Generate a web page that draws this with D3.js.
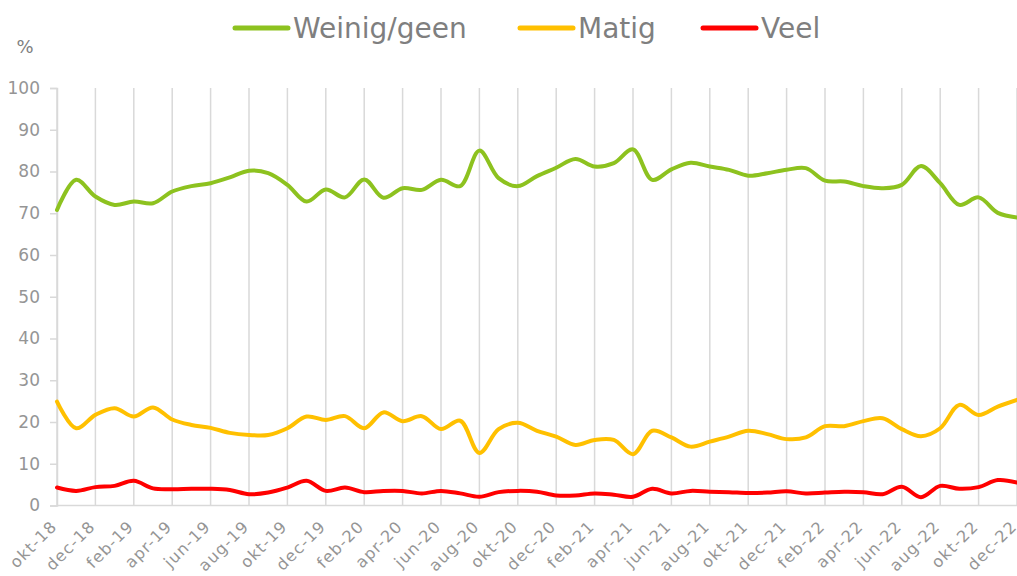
<!DOCTYPE html>
<html><head><meta charset="utf-8">
<script src="https://cdn.jsdelivr.net/npm/d3@7"></script>
<style>
html,body{margin:0;padding:0;background:#fff;}
svg{display:block;}
text{font-family:"Century Gothic","URW Gothic","DejaVu Sans",sans-serif;}
</style></head>
<body><svg id="c" width="1017" height="576"></svg>
<script>
const months = ["okt-18","nov-18","dec-18","jan-19","feb-19","mrt-19","apr-19","mei-19","jun-19","jul-19","aug-19","sep-19",
"okt-19","nov-19","dec-19","jan-20","feb-20","mrt-20","apr-20","mei-20","jun-20","jul-20","aug-20","sep-20",
"okt-20","nov-20","dec-20","jan-21","feb-21","mrt-21","apr-21","mei-21","jun-21","jul-21","aug-21","sep-21",
"okt-21","nov-21","dec-21","jan-22","feb-22","mrt-22","apr-22","mei-22","jun-22","jul-22","aug-22","sep-22",
"okt-22","nov-22","dec-22"];
const weinig = [70.8,78.0,74.0,72.0,72.8,72.4,75.2,76.5,77.2,78.6,80.2,79.6,76.8,72.8,75.7,73.8,78.1,73.7,76.0,75.6,78.0,76.5,85.0,78.4,76.5,78.9,80.9,83.0,81.2,82.0,85.3,78.0,80.5,82.1,81.2,80.4,79.0,79.6,80.4,80.8,77.8,77.6,76.5,76.0,76.8,81.3,77.2,72.0,73.8,70.1,69.0];
const matig = [24.9,18.5,21.7,23.3,21.3,23.5,20.6,19.3,18.6,17.4,16.9,16.9,18.5,21.3,20.5,21.4,18.5,22.3,20.2,21.4,18.3,20.3,12.6,18.3,19.8,17.9,16.5,14.5,15.7,15.7,12.3,17.9,16.3,14.1,15.3,16.5,17.9,17.1,15.9,16.3,19.0,19.0,20.2,20.9,18.3,16.6,18.5,24.1,21.7,23.7,25.3];
const veel = [4.3,3.5,4.4,4.7,5.9,4.1,3.9,4.0,4.0,3.7,2.7,3.1,4.3,5.9,3.5,4.3,3.2,3.5,3.5,2.9,3.5,2.9,2.1,3.2,3.5,3.3,2.4,2.4,2.9,2.6,2.1,4.0,2.9,3.5,3.3,3.2,3.0,3.1,3.4,2.9,3.1,3.3,3.2,2.7,4.5,2.0,4.7,4.0,4.4,6.1,5.5];
const seriesNames = ["Weinig/geen","Matig","Veel"];
const seriesColors = ["#8DC21F","#FFC000","#FF0000"];
const yTicks = [0,10,20,30,40,50,60,70,80,90,100];

const svg = d3.select("#c");
const x = d3.scaleLinear().domain([0, months.length-1]).range([57, 1017]);
const y = d3.scaleLinear().domain([0,100]).range([505.5, 88]);
const txt = "#959595", grid = "#d9d9d9";

// vertical gridlines at labelled months
const labIdx = months.map((m,i)=>i).filter(i=>i%2===0);
svg.append("g").selectAll("line").data(labIdx).join("line")
  .attr("x1",d=>x(d)).attr("x2",d=>x(d)).attr("y1",y(100)).attr("y2",y(0))
  .attr("stroke",grid).attr("stroke-width",1.5);

// x axis line
svg.append("line").attr("x1",57).attr("x2",1017).attr("y1",y(0)).attr("y2",y(0))
  .attr("stroke",grid).attr("stroke-width",1.5);
// y axis
const yAxis = svg.append("g").attr("transform","translate(57,0)")
  .call(d3.axisLeft(y).tickValues(yTicks).tickSize(7).tickPadding(10));
yAxis.select(".domain").attr("stroke",grid).attr("stroke-width",1.5);
yAxis.selectAll(".tick line").attr("stroke",grid).attr("stroke-width",1.5);
yAxis.selectAll("text").attr("fill",txt).style("font-size","17px")
  .style("font-family",'"Century Gothic","URW Gothic","DejaVu Sans",sans-serif');

svg.append("text").attr("x",25).attr("y",53).attr("text-anchor","middle")
  .attr("fill","#808080").style("font-size","18px").text("%");

// x labels
svg.append("g").selectAll("text").data(labIdx).join("text")
  .attr("transform",d=>`translate(${x(d)-3},${y(0)+18}) rotate(-45)`)
  .attr("text-anchor","end").attr("dy","0.35em")
  .style("letter-spacing","1.2px")
  .attr("fill",txt).style("font-size","16px").text(d=>months[d]);

// lines
const line = d3.line().x((d,i)=>x(i)).y(d=>y(d)).curve(d3.curveCatmullRom.alpha(0.5));
[weinig, matig, veel].forEach((s,k)=>{
  svg.append("path").attr("d",line(s)).attr("fill","none")
    .attr("stroke",seriesColors[k]).attr("stroke-width",4).attr("stroke-linejoin","round").attr("stroke-linecap","round");
});

// legend
const legX = [235, 520, 703];
seriesNames.forEach((n,k)=>{
  svg.append("line").attr("x1",legX[k]).attr("x2",legX[k]+53).attr("y1",28).attr("y2",28)
    .attr("stroke",seriesColors[k]).attr("stroke-width",5).attr("stroke-linecap","round");
  svg.append("text").attr("x",legX[k]+58).attr("y",38).attr("fill","#7f7f7f")
    .style("font-size","28px").text(n);
});
</script></body></html>
